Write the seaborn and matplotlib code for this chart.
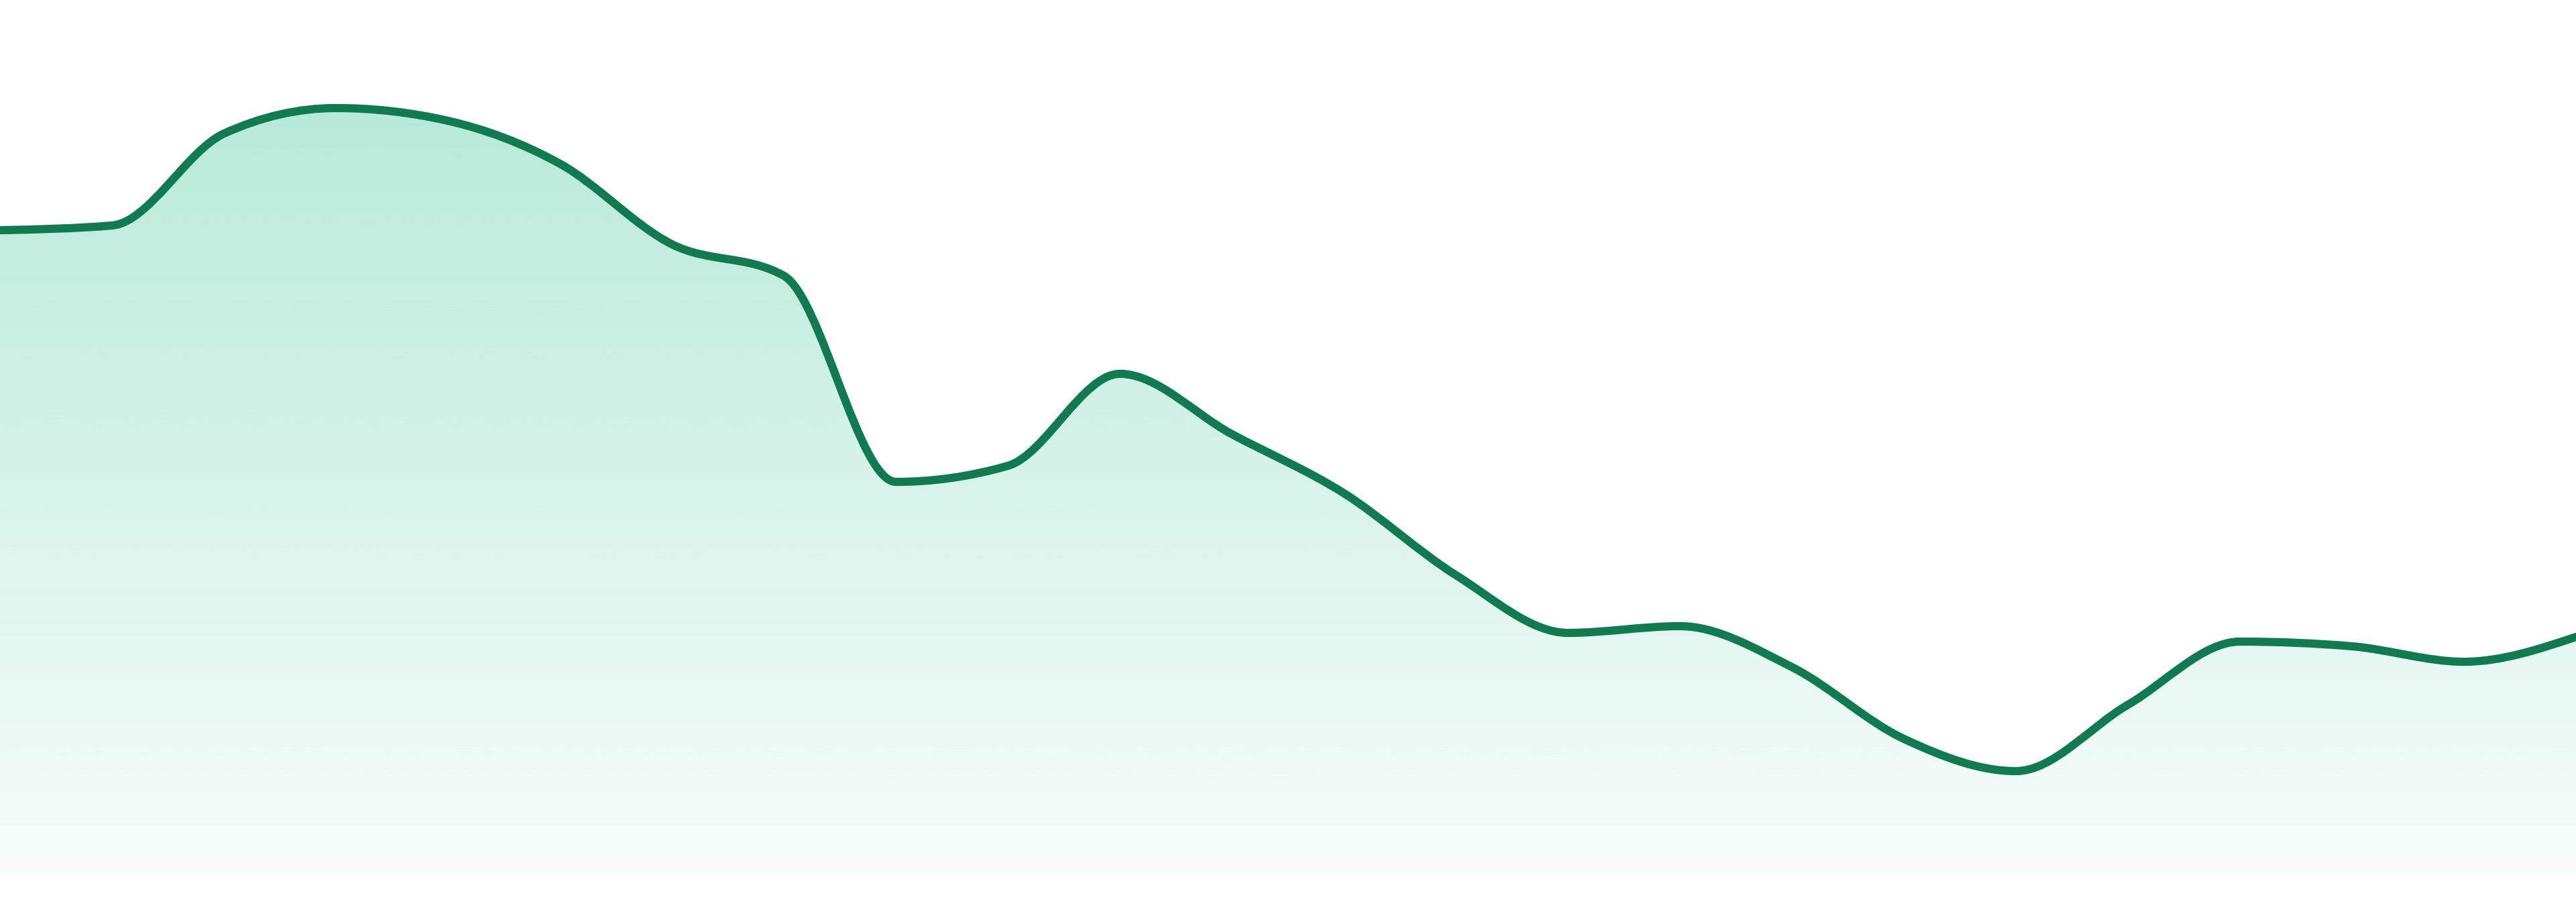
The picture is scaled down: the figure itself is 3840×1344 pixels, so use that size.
import numpy as np
import seaborn as sns
import matplotlib.pyplot as plt
from matplotlib.path import Path
from matplotlib.patches import PathPatch

### data (24 evenly spaced samples)
idx = list(range(24))
values = [961, 968, 1105, 1143, 1124, 1060, 940, 893, 586, 610, 747, 657,
          569, 447, 361, 371, 310, 203, 155, 254, 348, 341, 318, 355]

line_color = '#127a51'
fill_color = '#10b981'


def monotone_tangents(x, y):
    # same slopes as d3.curveMonotoneX
    x = np.asarray(x, float)
    y = np.asarray(y, float)
    h = np.diff(x)
    s = np.diff(y) / h
    t = np.zeros_like(y)
    for i in range(1, len(x) - 1):
        p = (s[i - 1] * h[i] + s[i] * h[i - 1]) / (h[i - 1] + h[i])
        sg = (1 if s[i - 1] >= 0 else -1) + (1 if s[i] >= 0 else -1)
        t[i] = sg * min(abs(s[i - 1]), abs(s[i]), 0.5 * abs(p))
    t[0] = (3 * s[0] - t[1]) / 2
    t[-1] = (3 * s[-1] - t[-2]) / 2
    return t


def curve_path(x, y, base=None):
    t = monotone_tangents(x, y)
    verts = [(x[0], y[0])]
    codes = [Path.MOVETO]
    for i in range(len(x) - 1):
        h = x[i + 1] - x[i]
        verts += [(x[i] + h / 3, y[i] + h * t[i] / 3),
                  (x[i + 1] - h / 3, y[i + 1] - h * t[i + 1] / 3),
                  (x[i + 1], y[i + 1])]
        codes += [Path.CURVE4] * 3
    if base is not None:
        verts += [(x[-1], base), (x[0], base), (x[0], y[0])]
        codes += [Path.LINETO, Path.LINETO, Path.CLOSEPOLY]
    return Path(verts, codes)


sns.set_theme(style='white')
fig = plt.figure(figsize=(38.4, 13.44), dpi=100)
ax = fig.add_axes([0, 0, 1, 1])
ax.set_xlim(0, 23)
ax.set_ylim(-40, 1304)
ax.axis('off')

# gradient area under the curve
area = PathPatch(curve_path(idx, values, base=0), facecolor='none',
                 edgecolor='none')
ax.add_patch(area)
top = max(values)
rgb = np.array(plt.matplotlib.colors.to_rgb(fill_color))
alpha = np.linspace(0.30, 0.03, 256)
grad = np.zeros((256, 1, 4))
grad[:, 0, :3] = rgb
grad[:, 0, 3] = alpha
img = ax.imshow(grad, extent=[0, 23, 0, top], aspect='auto',
                origin='upper', interpolation='bilinear', zorder=1)
img.set_clip_path(area)

# the line itself
ax.add_patch(PathPatch(curve_path(idx, values), facecolor='none',
                       edgecolor=line_color, linewidth=8.8,
                       capstyle='round', joinstyle='round', zorder=3))

fig.savefig('out.png', dpi=100, facecolor='white')
